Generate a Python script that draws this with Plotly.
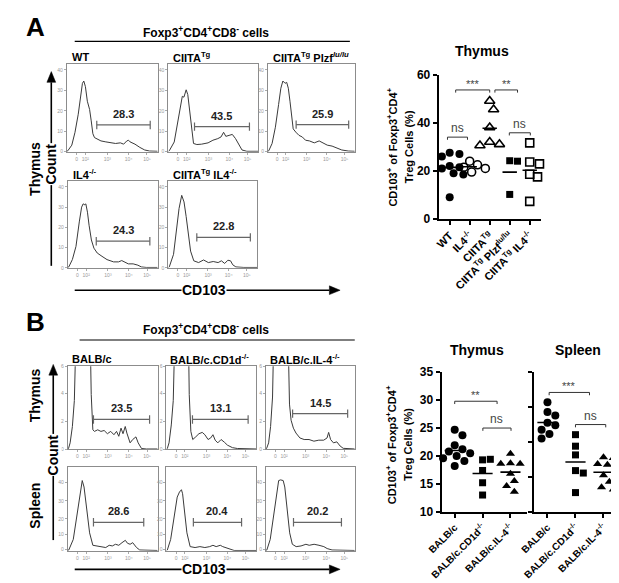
import numpy as np
import plotly.graph_objects as go

W, H = 619, 583
FONT = "Liberation Sans, Arial, Helvetica, sans-serif"

# ======================= DATA =======================
# Flow histograms: x = position on CD103 log display (% of width), y = count (% of box height)
hist_xtick_vals = [10.7, 20.4, 44.6, 67.9, 88.2]
hist_xtick_text = ["0", "10²", "10³", "10⁴", "10⁵"]
histA_ytick_vals = [0, 23.3, 46.5, 69.8, 93]
histA_ytick_text = ["0", "10", "20", "30", "40"]
histBt_ytick_vals = [0, 33.5, 67, 100]
histBt_ytick_text = ["0", "2", "4", "6"]
histBs_ytick_vals = [2, 19.5, 38, 59.5, 81.7]
histBs_ytick_text = ["0", "10", "20", "30", "40"]

hA_wt_x = [0, 1, 5.4, 8.9, 12.5, 15.4, 17.1, 18.6, 20.4, 22.5, 25, 26.8, 28.6, 30.4, 33.9, 37.5, 42.9, 48.2, 53.6, 58.9, 62.5, 66, 67.9, 69.6, 75, 80.4, 85.7, 91, 100]
hA_wt_y = [0.3, 1, 7.4, 22, 42.6, 63, 77.8, 80.4, 74, 57.4, 48, 35, 20.4, 16, 13.7, 12.2, 11.1, 10, 9.3, 10, 8.5, 12.2, 13, 11.1, 8.5, 4.8, 1.9, 0.7, 0.4]
hA_ciita_x = [0, 1, 6.5, 10, 13.7, 15.5, 17.3, 19.8, 21.6, 23.4, 25.5, 28, 31.7, 37, 44.2, 49.6, 55, 58.6, 61.5, 64, 67.6, 71.2, 74.8, 78.4, 82, 87.4, 100]
hA_ciita_y = [0.3, 1, 11, 31.5, 57.4, 63, 62, 70.4, 65, 50, 31.5, 9.3, 8.1, 8.5, 10, 13, 14.8, 16.7, 22, 17.4, 18.5, 19.6, 14.8, 7.4, 1.9, 0.4, 0.4]
hA_plzf_x = [0, 1, 4.8, 8.6, 12.3, 14.9, 17.2, 19.8, 21.6, 23.5, 25.4, 27.2, 29.1, 32.1, 35.8, 39.6, 43.3, 47.8, 53.4, 59, 62.7, 68.3, 73.9, 79.5, 85, 92.5, 100]
hA_plzf_y = [0.3, 1, 9.3, 27.8, 53.7, 72.2, 80.4, 77.8, 78.9, 72.2, 57.4, 40.7, 25.9, 22.2, 18.5, 16.7, 13, 12.2, 10, 12.2, 10, 7.4, 6.3, 3.7, 1.9, 0.7, 0.4]
hA_il4_x = [0, 1, 5, 9, 12.7, 15.3, 17, 18.9, 20, 21.8, 23.6, 26.2, 29, 32.7, 38, 43.6, 50.9, 56.4, 60, 62.5, 67.3, 72.7, 78, 81.8, 87.3, 100]
hA_il4_y = [0.3, 1, 9.5, 24.5, 52.8, 69.8, 73.6, 72.5, 73.6, 64, 49, 32, 22.6, 17, 13.2, 9.4, 6.8, 6.8, 8.3, 6.8, 4.5, 4.5, 3, 1, 0.4, 0.4]
hA_ciitail4_x = [0, 1, 5.8, 9, 12, 15, 17.6, 20, 23, 25, 28.6, 34, 39.6, 45, 50.5, 56, 59.7, 63.4, 67, 70, 72.5, 76, 85, 100]
hA_ciitail4_y = [0.3, 1, 15.5, 42, 68.3, 83.4, 75.8, 59, 38, 19.2, 8, 6, 9, 6, 7.2, 6, 8, 5, 8.7, 8, 3.4, 1, 0.4, 0.4]

hBt_balbc_x = [0, 0.7, 2.5, 5, 7.2, 9.5, 24.5, 26, 27.8, 29.6, 33.2, 36.8, 40.4, 44, 47.7, 51.3, 54.2, 56.7, 59.2, 61.4, 63.9, 65.7, 69.3, 72.2, 75.8, 78.3, 82, 87.4, 100]
hBt_balbc_y = [0.3, 1, 7.8, 27.5, 58.8, 160, 160, 66, 23.5, 21.6, 23.5, 21.6, 22.7, 18.8, 21.6, 17.6, 21.6, 15.7, 25.5, 18.8, 27.5, 19.6, 7.8, 11.8, 15, 7.8, 1, 0.4, 0.4]
hBt_cd1d_x = [0, 1, 2.9, 5.4, 7.6, 9.8, 24.2, 25.4, 27.2, 29.3, 32.6, 36.2, 39.9, 42.8, 46.4, 49.3, 51.8, 54.3, 57.2, 60.9, 64.5, 68, 73.5, 79, 100]
hBt_cd1d_y = [0.3, 1, 7.8, 29.4, 58.8, 160, 160, 66, 21.6, 11.8, 15, 18.8, 20.4, 17.6, 11.8, 13.7, 17.6, 11, 7.8, 11.8, 8.6, 5, 2, 1, 0.4]
hBt_il4_x = [0, 0.7, 3, 5.2, 7.4, 9.2, 24.5, 25.4, 26.5, 28.3, 30.9, 33.8, 38.2, 43, 48.5, 54, 59.5, 65, 68.8, 70.6, 72.8, 76, 79.8, 83.5, 87, 100]
hBt_il4_y = [0.3, 1, 7.8, 27.5, 63, 160, 160, 82, 54.5, 35, 25.5, 19.6, 13.7, 11.8, 11.8, 9.8, 11, 11, 13.7, 20.4, 11.8, 7.8, 9, 4, 1.2, 0.4]

hBs_balbc_x = [0, 1, 6, 9.7, 13.4, 16, 18, 20.6, 24.2, 27.8, 31.4, 37, 42.2, 46, 49.5, 53, 56.7, 60.3, 64, 66.4, 69.3, 72.2, 76.5, 80, 100]
hBs_balbc_y = [0.3, 1, 13.6, 39, 68, 83.7, 76, 52.5, 21.4, 6.6, 5.8, 5, 3.9, 6.6, 5.8, 7.8, 6.6, 9.7, 12.5, 9, 7.8, 9.7, 3.9, 1, 0.4]
hBs_cd1d_x = [0, 1, 4.7, 8.3, 12, 14.5, 16.7, 18, 20.3, 22.8, 26.4, 31.9, 37.3, 42.8, 48.2, 51.8, 55.4, 60, 62.7, 66.3, 69.9, 75.4, 100]
hBs_cd1d_y = [0.3, 1, 13.6, 41, 64, 70, 72.8, 68, 48.6, 21.4, 5, 3.9, 5, 3.9, 5, 6.6, 5, 6.6, 5, 3.9, 1.9, 0.4, 0.4]
hBs_il4_x = [0, 1, 4.8, 8.4, 12, 14.3, 16.5, 19.4, 21.2, 23.8, 26.7, 29.7, 34, 39.5, 45, 48.7, 54.2, 59.7, 65.2, 68.9, 74.4, 100]
hBs_il4_y = [0.3, 1, 13.6, 41, 68, 83.7, 84.5, 83.7, 76, 48.6, 21.4, 7.8, 5, 5.8, 7.8, 6.6, 7.8, 6.6, 5, 2.7, 1, 0.4]

# CD103+ gates (display %), gate height and percentage
gateA_lo = [32.9, 29.1, 32.5, 31.6, 32.0]
gateA_hi = [91.8, 90.3, 93.0, 91.3, 92.3]
gateA_y = [30.4, 28.5, 30.7, 30.6, 35.0]
pctA = ["28.3", "43.5", "25.9", "24.3", "22.8"]
gateB_lo = [28.5, 29.0, 30.0, 28.5, 30.0, 31.0]
gateB_hi = [91.0, 91.0, 92.0, 84.5, 83.7, 85.0]
gateB_y = [36, 36, 43, 34, 34, 34]
pctB = ["23.5", "13.1", "14.5", "28.6", "20.4", "20.2"]

labelsA = ["WT", "CIITA<sup>Tg</sup>", "CIITA<sup>Tg</sup> Plzf<sup><i>lu/lu</i></sup>",
           "IL4<sup>-/-</sup>", "CIITA<sup>Tg</sup> IL4<sup>-/-</sup>"]
labelsB = ["BALB/c", "BALB/c.CD1d<sup>-/-</sup>", "BALB/c.IL-4<sup>-/-</sup>"]

# Dot plots: % CD103+ of Foxp3+CD4+ Treg cells
catsA = ["WT", "IL4<sup>-/-</sup>", "CIITA<sup>Tg</sup>", "CIITA<sup>Tg</sup> Plzf<sup>lu/lu</sup>",
         "CIITA<sup>Tg</sup> IL4<sup>-/-</sup>"]
A_wt = [27.5, 27, 26, 25, 22, 21.5, 21, 19.5, 19, 18.5, 9]
A_il4 = [24, 22.5, 21.5, 21, 19.5]
A_ciita = [49, 45.5, 38, 32, 31, 30.5]
A_plzf = [24.2, 24, 10.2]
A_ciita_il4 = [31.6, 23.7, 22.9, 18.6, 17.5, 7.3]
sigA = [(0.3, 2.0, 53.6, "***"), (2.26, 3.39, 53.6, "**"), (-0.11, 0.89, 34, "ns"), (2.98, 4.03, 35.8, "ns")]

catsB = ["BALB/c", "BALB/c.CD1d<sup>-/-</sup>", "BALB/c.IL-4<sup>-/-</sup>"]
BT_balbc = [24.7, 23.7, 21.9, 21.2, 20.8, 20.5, 20.0, 19.6, 19.1, 18.2]
BT_cd1d = [19.3, 19.4, 17.4, 15.2, 13.0]
BT_il4 = [20.4, 18.7, 18.6, 18.6, 16.8, 15.5, 14.6, 13.6]
BS_balbc = [31.4, 28.6, 27.6, 25.5, 24.8, 23.5, 22.3, 21.0]
BS_cd1d = [22.1, 18.8, 16.3, 11.8, 11.1, 5.5]
BS_il4 = [15.6, 15.4, 13.7, 13.5, 10.5, 8.6, 7.0, 6.4]
sigBT = [(0.0, 1.52, 29.8, "**"), (1.01, 2.02, 25.0, "ns")]
sigBS = [(0.06, 1.5, 34.2, "***"), (1.0, 2.08, 25.0, "ns")]

# ======================= FIGURE =======================
fig = go.Figure()
axes = {}
anns = []
shapes = []


def ref(n):
    return ("x" if n == 1 else f"x{n}"), ("y" if n == 1 else f"y{n}")


def add_axes(n, x0, x1, y0, y1, xcfg, ycfg):
    xr, yr = ref(n)
    axes["xaxis" if n == 1 else f"xaxis{n}"] = dict(domain=[x0 / W, x1 / W], anchor=yr, **xcfg)
    axes["yaxis" if n == 1 else f"yaxis{n}"] = dict(domain=[1 - y1 / H, 1 - y0 / H], anchor=xr, **ycfg)


def text(t, x, y, size, bold=True, angle=0, xa="center", ya="middle", color="black", bg=None):
    d = dict(text=(f"<b>{t}</b>" if bold else t), x=x / W, y=1 - y / H, xref="paper", yref="paper",
             showarrow=False, textangle=angle, xanchor=xa, yanchor=ya,
             font=dict(family=FONT, size=size, color=color))
    if bg:
        d["bgcolor"] = bg
        d["borderpad"] = 0
    anns.append(d)


def arrow(x0, y0, x1, y1):
    """Line from (x0,y0) to head (x1,y1) in page pixels, with filled triangular head."""
    L = ((x1 - x0) ** 2 + (y1 - y0) ** 2) ** 0.5
    ux, uy = (x1 - x0) / L, (y1 - y0) / L
    hl, hw = 11, 4.5
    bx, by = x1 - ux * hl, y1 - uy * hl
    shapes.append(dict(type="line", xref="paper", yref="paper", x0=x0 / W, y0=1 - y0 / H,
                       x1=bx / W, y1=1 - by / H, line=dict(color="black", width=1.6)))
    pts = [(x1, y1), (bx - uy * hw, by + ux * hw), (bx + uy * hw, by - ux * hw)]
    path = "M " + " L ".join(f"{px / W},{1 - py / H}" for px, py in pts) + " Z"
    shapes.append(dict(type="path", xref="paper", yref="paper", path=path,
                       fillcolor="black", line=dict(color="black", width=0.5)))


FRAME = "#8c8c8c"
tickfont_tiny = dict(family=FONT, size=5, color="#9a9a9a")


def hist(n, box, xs, ys, lo, hi, gy, pct, ytv, ytt):
    x0, x1, y0, y1 = box
    xcfg = dict(range=[0, 100], showline=True, mirror=True, linecolor=FRAME, linewidth=1,
                showgrid=False, zeroline=False, ticks="outside", ticklen=2, tickcolor="#aaa",
                tickvals=hist_xtick_vals, ticktext=hist_xtick_text, tickfont=tickfont_tiny)
    ycfg = dict(range=[0, 100], showline=True, mirror=True, linecolor=FRAME, linewidth=1,
                showgrid=False, zeroline=False, ticks="outside", ticklen=2, tickcolor="#aaa",
                tickvals=ytv, ticktext=ytt, tickfont=tickfont_tiny)
    add_axes(n, x0, x1, y0, y1, xcfg, ycfg)
    xr, yr = ref(n)
    fig.add_trace(go.Scatter(x=xs, y=ys, mode="lines", line=dict(color="#3a3a3a", width=1),
                             xaxis=xr, yaxis=yr, hoverinfo="skip"))
    fig.add_trace(go.Scatter(x=[lo, hi], y=[gy, gy], mode="lines+markers",
                             line=dict(color="#666", width=1.2),
                             marker=dict(symbol="line-ns", size=6, color="#666", line=dict(width=1.2, color="#666")),
                             xaxis=xr, yaxis=yr, hoverinfo="skip"))
    anns.append(dict(text=f"<b>{pct}</b>", x=(lo + hi) / 2, y=gy, xref=xr, yref=yr, yshift=11,
                     showarrow=False, font=dict(family=FONT, size=11, color="#222")))


def swarm(vals, ppx, ppy, d=8.0, step=2.0):
    placed, offs = [], []
    cands = [0.0] + [s * i * step for i in range(1, 40) for s in (1, -1)]
    for v in vals:
        yv = v * ppy
        for c in cands:
            if all((c - p) ** 2 + (yv - q) ** 2 >= d * d for p, q in placed):
                break
        placed.append((c, yv))
        offs.append(c / ppx)
    return offs


def dots(n, groups, styles, ppx, ppy, sigs, sig_dy):
    xr, yr = ref(n)
    for i, (vals, st) in enumerate(zip(groups, styles)):
        offs = swarm(vals, ppx, ppy, d=st["size"] + 0.3)
        fig.add_trace(go.Scatter(x=[i + o for o in offs], y=vals, mode="markers", marker=st,
                                 xaxis=xr, yaxis=yr, hoverinfo="skip", cliponaxis=False))
        m = float(np.mean(vals))
        fig.add_trace(go.Scatter(x=[i - 0.36, i + 0.36], y=[m, m], mode="lines",
                                 line=dict(color="black", width=1.6), xaxis=xr, yaxis=yr, hoverinfo="skip"))
    for a, b, yv, t in sigs:
        fig.add_trace(go.Scatter(x=[a, a, b, b], y=[yv - sig_dy, yv, yv, yv - sig_dy], mode="lines",
                                 line=dict(color="#333", width=1), xaxis=xr, yaxis=yr, hoverinfo="skip"))
        anns.append(dict(text=t, x=(a + b) / 2, y=yv, xref=xr, yref=yr, yanchor="bottom",
                         yshift=(0 if t == "ns" else -2), showarrow=False,
                         font=dict(family=FONT, size=(12 if t == "ns" else 11), color="#444")))


# ---------- Panel A histograms ----------
A_hists = [(hA_wt_x, hA_wt_y), (hA_ciita_x, hA_ciita_y), (hA_plzf_x, hA_plzf_y),
           (hA_il4_x, hA_il4_y), (hA_ciitail4_x, hA_ciitail4_y)]
A_boxes = [(45, 138, 50, 140), (149, 241, 50, 140), (251, 340, 50, 140),
           (46, 138, 170, 259), (149, 240, 170, 259)]
n = 0
for k, ((xs, ys), box) in enumerate(zip(A_hists, A_boxes)):
    n += 1
    hist(n, box, xs, ys, gateA_lo[k], gateA_hi[k], gateA_y[k], pctA[k], histA_ytick_vals, histA_ytick_text)
    text(labelsA[k], box[0] + 3, box[2] - 7, 11, xa="left")

# ---------- Panel B histograms ----------
B_hists = [(hBt_balbc_x, hBt_balbc_y), (hBt_cd1d_x, hBt_cd1d_y), (hBt_il4_x, hBt_il4_y),
           (hBs_balbc_x, hBs_balbc_y), (hBs_cd1d_x, hBs_cd1d_y), (hBs_il4_x, hBs_il4_y)]
B_cols = [(46, 138), (147, 239), (249, 340)]
for k, (xs, ys) in enumerate(B_hists):
    n += 1
    c = B_cols[k % 3]
    box = (c[0], c[1], 360, 445) if k < 3 else (c[0], c[1], 463, 549)
    ytv, ytt = (histBt_ytick_vals, histBt_ytick_text) if k < 3 else (histBs_ytick_vals, histBs_ytick_text)
    hist(n, box, xs, ys, gateB_lo[k], gateB_hi[k], gateB_y[k], pctB[k], ytv, ytt)
    if k < 3:
        text(labelsB[k], box[0] + 2, box[2] - 8, 11, xa="left")

# ---------- Dot plot axes ----------
dot_x = dict(showline=True, linecolor="black", linewidth=2, showgrid=False, zeroline=False,
             ticks="outside", ticklen=4, tickwidth=1.5, tickcolor="black", tickangle=-45)
dot_y = dict(showline=True, linecolor="black", linewidth=2, showgrid=False, zeroline=False,
             ticks="outside", ticklen=4, tickwidth=1.5, tickcolor="black")

n += 1
nA = n
add_axes(nA, 426, 531, 61, 209,
         dict(range=[-0.55, 4.57], tickvals=list(range(5)), ticktext=catsA,
              tickfont=dict(family=FONT, size=11, color="black", weight="bold"), **dot_x),
         dict(range=[0, 60], tickvals=[0, 20, 40, 60],
              tickfont=dict(family=FONT, size=12, color="black", weight="bold"), **dot_y))
stylesA = [dict(symbol="circle", size=8, color="black"),
           dict(symbol="circle-open", size=8, color="black", line=dict(width=1.6)),
           dict(symbol="triangle-up-open", size=9, color="black", line=dict(width=1.6)),
           dict(symbol="square", size=7, color="black"),
           dict(symbol="square-open", size=8, color="black", line=dict(width=1.6))]
dots(nA, [A_wt, A_il4, A_ciita, A_plzf, A_ciita_il4], stylesA, 20.5, 148 / 60, sigA, 1.1)

n += 1
nBT = n
add_axes(nBT, 429, 517, 366, 509,
         dict(range=[-0.47, 2.61], tickvals=[0, 1, 2], ticktext=catsB,
              tickfont=dict(family=FONT, size=10, color="black", weight="bold"), **dot_x),
         dict(range=[10, 35], tickvals=[10, 15, 20, 25, 30, 35],
              tickfont=dict(family=FONT, size=12, color="black", weight="bold"), **dot_y))
stylesB = [dict(symbol="circle", size=8, color="black"),
           dict(symbol="square", size=7, color="black"),
           dict(symbol="triangle-up", size=8, color="black")]
dots(nBT, [BT_balbc, BT_cd1d, BT_il4], stylesB, 28.8, 143 / 25, sigBT, 0.5)

n += 1
nBS = n
add_axes(nBS, 524, 613, 366, 509,
         dict(range=[-0.47, 2.63], tickvals=[0, 1, 2], ticktext=catsB,
              tickfont=dict(family=FONT, size=10, color="black", weight="bold"), **dot_x),
         dict(range=[0, 40], tickvals=[0, 10, 20, 30, 40], showticklabels=False, **dot_y))
dots(nBS, [BS_balbc, BS_cd1d, BS_il4], stylesB, 28.6, 143 / 40, sigBS, 0.8)

# ---------- Texts, arrows, lines ----------
text("A", 13, 12, 26)
text("B", 13, 315, 26)
text("Foxp3<sup>+</sup>CD4<sup>+</sup>CD8<sup>-</sup> cells", 188, 17, 12)
text("Foxp3<sup>+</sup>CD4<sup>+</sup>CD8<sup>-</sup> cells", 188, 322, 12)
shapes.append(dict(type="line", xref="paper", yref="paper", x0=53 / W, x1=335 / W, y0=1 - 27 / H, y1=1 - 27 / H,
                   line=dict(color="black", width=1.2)))
shapes.append(dict(type="line", xref="paper", yref="paper", x0=58 / W, x1=340 / W, y0=1 - 333 / H, y1=1 - 333 / H,
                   line=dict(color="black", width=1.2)))

# Panel A axes arrows
arrow(29, 257, 29, 58)
text("Count", 29, 153, 14, angle=-90, bg="white")
text("Thymus", 12, 158, 14, angle=-90)
arrow(53, 282, 325, 282)
text("CD103", 185, 282, 14, bg="white")

# Panel B axes arrows
arrow(31, 538, 31, 358)
text("Count", 31, 451, 14, angle=-90, bg="white")
text("Thymus", 12, 390, 14, angle=-90)
text("Spleen", 12, 503, 14, angle=-90)
arrow(53, 568, 325, 568)
text("CD103", 185, 568, 14, bg="white")

# Dot plot titles
text("Thymus", 470, 37, 14)
text("Thymus", 465, 343, 14)
text("Spleen", 569, 343, 14)
for yc in (135, 440):
    text("CD103<sup>+</sup> of Foxp3<sup>+</sup>CD4<sup>+</sup>", 378, yc, 11, angle=-90)
    text("Treg Cells (%)", 395, yc, 11, angle=-90)

fig.update_layout(width=W, height=H, margin=dict(l=0, r=0, t=0, b=0),
                  paper_bgcolor="white", plot_bgcolor="white", showlegend=False,
                  font=dict(family=FONT), annotations=anns, shapes=shapes, **axes)
fig.write_html("out.html")
